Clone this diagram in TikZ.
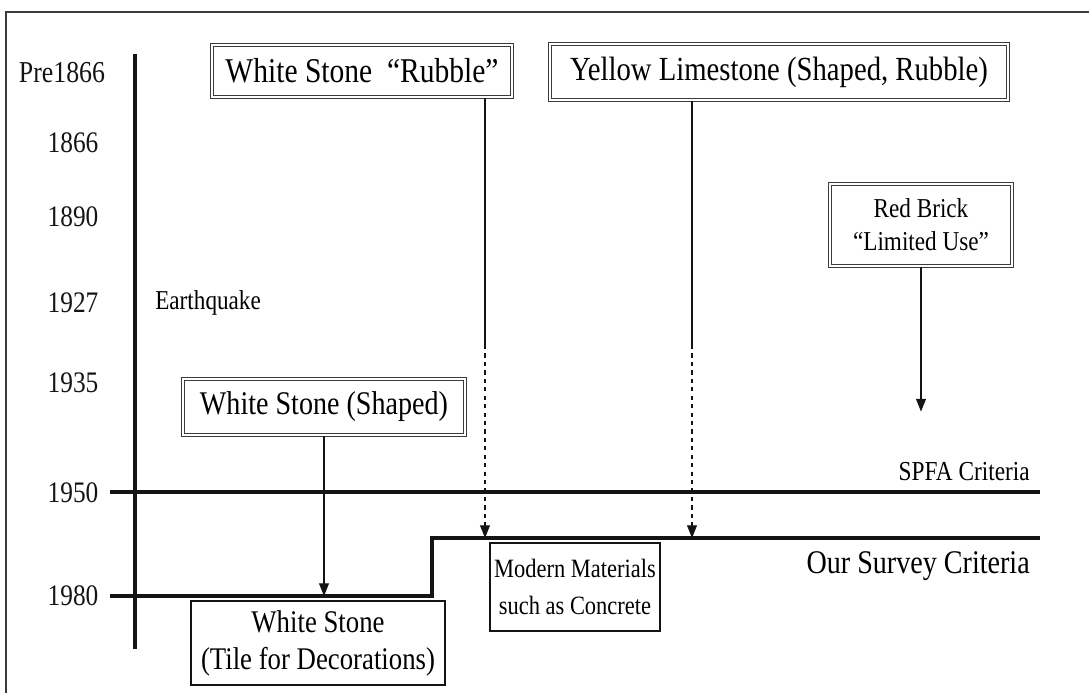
\documentclass[tikz,border=0pt]{standalone}
\usepackage{fontspec}
\setmainfont{Liberation Serif}[FakeStretch=0.85]
\definecolor{ink}{RGB}{20, 20, 20}
\definecolor{frame}{RGB}{60, 60, 60}
\usetikzlibrary{arrows.meta, positioning, calc}
\tikzset{
    yearlabel/.style={inner sep=0pt, font=\fontsize{21.2}{24}\selectfont, ink},
    stonebox/.style={rectangle, draw=frame, double=white, double distance=1.3pt, line width=0.8pt, align=center, inner sep=0pt, font=\fontsize{24}{28}\selectfont},
    plainbox/.style={rectangle, draw=ink, line width=2pt, align=center, inner sep=0pt},
    arrow/.style={line width=0.8pt, ink, -{Triangle[length=9pt, width=7pt]}},
    dashedarrow/.style={arrow, dashed},
    criteria/.style={line width=2.4pt, ink}
}
\begin{document}
\begin{tikzpicture}[x=0.025cm, y=-0.025cm]
    \useasboundingbox (0,0) rectangle (1089,693);
    % outer frame and time axis
    \draw[line width=1.2pt, frame] (6,693) -- (6,12) -- (1089,12);
    \draw[line width=2.6pt, ink] (135,54) -- (135,649);
    \node[yearlabel, font=\fontsize{21.6}{24}\selectfont] (pre) at (62,73) {Pre1866};
    \node[yearlabel] (y1866) at (73,143) {1866};
    \node[yearlabel] (y1890) at (73,217) {1890};
    \node[yearlabel] (y1927) at (73,303) {1927};
    \node[yearlabel] (y1935) at (73,383) {1935};
    \node[yearlabel] (y1950) at (73,493) {1950};
    \node[yearlabel] (y1980) at (73,596) {1980};
    \node[anchor=west, inner sep=0pt, font=\fontsize{19.4}{22}\selectfont] (quake) at (155,303) {Earthquake};
    % material boxes
    \node[stonebox, minimum width=7.48cm, minimum height=1.3cm, font=\fontsize{24.7}{28}\selectfont] (rubble) at (362,71) {White Stone~ “Rubble”};
    \node[stonebox, minimum width=11.45cm, minimum height=1.4cm] (yellow) at (779,72) {Yellow Limestone (Shaped, Rubble)};
    \node[stonebox, minimum width=4.55cm, minimum height=2.05cm, font=\fontsize{19.4}{23.5}\selectfont] (brick) at (921,225) {Red Brick\\“Limited Use”};
    \node[stonebox, minimum width=7.05cm, minimum height=1.4cm, font=\fontsize{23.5}{28}\selectfont] (shaped) at (324,407) {White Stone (Shaped)};
    \node[plainbox, minimum width=6.35cm, minimum height=2.1cm, font=\fontsize{22.4}{26.3}\selectfont] (tile) at (318,643) {White Stone\\(Tile for Decorations)};
    \node[plainbox, minimum width=4.25cm, minimum height=2.2cm, font=\fontsize{18.8}{26}\selectfont] (modern) at (575,587) {Modern Materials\\such as Concrete};
    % criteria lines
    \coordinate (spfaL) at (110,492);
    \coordinate (spfaR) at (1040,492);
    \coordinate (oldL) at (110,596);
    \coordinate (stepB) at (432,596);
    \coordinate (stepT) at (432,538);
    \coordinate (surveyR) at (1040,538);
    \draw[criteria] (spfaL) -- (spfaR);
    \draw[criteria] (oldL) -- (stepB) -- (stepT) -- (surveyR);
    \node[anchor=east, inner sep=0pt, font=\fontsize{19.5}{22}\selectfont] (spfa) at (1030,472) {SPFA Criteria};
    \node[anchor=east, inner sep=0pt, font=\fontsize{23.5}{26}\selectfont] (survey) at (1030,566) {Our Survey Criteria};
    % arrows
    \coordinate (rubx) at (485,345);
    \coordinate (yelx) at (692,345);
    \draw[line width=0.8pt, ink] (rubble.south -| rubx) -- (rubx);
    \draw[dashedarrow] (rubx) -- (rubx |- surveyR);
    \draw[line width=0.8pt, ink] (yellow.south -| yelx) -- (yelx);
    \draw[dashedarrow] (yelx) -- (yelx |- surveyR);
    \draw[arrow] (brick.south) -- ++(0,145);
    \draw[arrow] (shaped.south) -- (shaped.south |- stepB);
\end{tikzpicture}
\end{document}
